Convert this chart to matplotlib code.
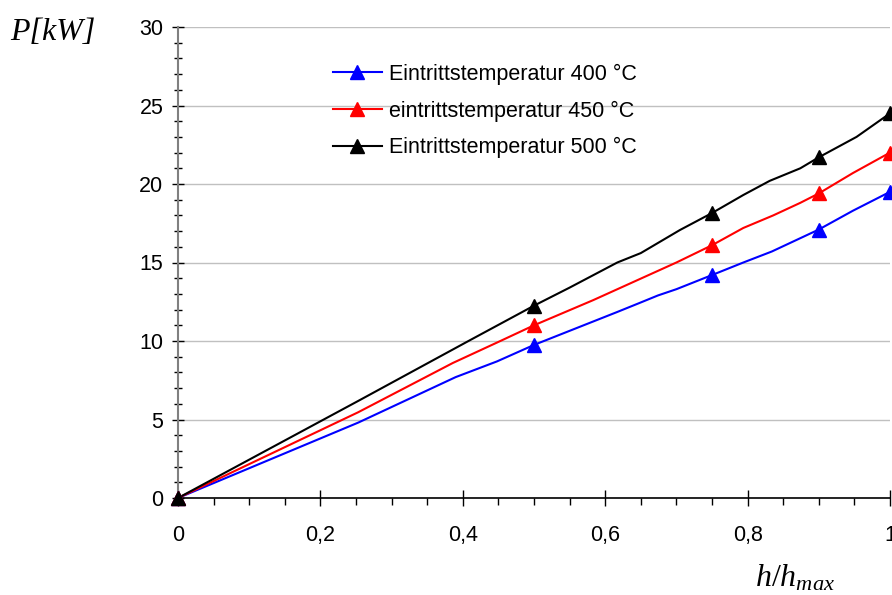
import matplotlib
matplotlib.use("Agg")
import matplotlib.pyplot as plt
from matplotlib.ticker import MultipleLocator, FuncFormatter

# Power P [kW] over relative lift h/h_max for three inlet temperatures
x_400 = [0.0, 0.253, 0.39, 0.448, 0.5, 0.617, 0.647, 0.674, 0.70, 0.75, 0.794, 0.834, 0.9, 0.948, 1.0]
p_400 = [0.0, 4.8, 7.7, 8.7, 9.75, 11.85, 12.4, 12.9, 13.3, 14.2, 15.0, 15.7, 17.1, 18.3, 19.5]

x_450 = [0.0, 0.253, 0.386, 0.448, 0.5, 0.583, 0.70, 0.75, 0.794, 0.836, 0.874, 0.9, 0.948, 1.0]
p_450 = [0.0, 5.46, 8.6, 9.9, 11.0, 12.6, 15.0, 16.1, 17.2, 18.0, 18.8, 19.4, 20.7, 22.0]

x_500 = [0.0, 0.253, 0.41, 0.5, 0.55, 0.617, 0.65, 0.705, 0.75, 0.794, 0.831, 0.874, 0.9, 0.953, 1.0]
p_500 = [0.0, 6.18, 10.05, 12.25, 13.4, 15.0, 15.6, 17.07, 18.15, 19.3, 20.2, 21.0, 21.7, 23.0, 24.5]

# measured operating points shown with markers
x_marks = [0.0, 0.5, 0.75, 0.9, 1.0]

labels = ["Eintrittstemperatur 400 °C",
          "eintrittstemperatur 450 °C",
          "Eintrittstemperatur 500 °C"]
colors = ["#0000ff", "#ff0000", "#000000"]

x_ticks = [0.0, 0.2, 0.4, 0.6, 0.8, 1.0]
y_ticks = [0, 5, 10, 15, 20, 25, 30]

plt.rcParams["font.family"] = ["Liberation Sans", "DejaVu Sans"]
plt.rcParams["mathtext.fontset"] = "custom"
plt.rcParams["mathtext.it"] = "Liberation Serif:italic"
plt.rcParams["mathtext.rm"] = "Liberation Serif"

W, H = 892, 595
fig = plt.figure(figsize=(W / 100, H / 100), dpi=100)
ax = fig.add_axes([178 / W, (H - 498) / H, 712 / W, 471 / H])

series = [(x_400, p_400), (x_450, p_450), (x_500, p_500)]
for (xs, ps), lab, col in zip(series, labels, colors):
    ax.plot(xs, ps, color=col, lw=1.5, zorder=3, clip_on=False)
    ym = [ps[xs.index(v)] for v in x_marks]
    ax.plot(x_marks, ym, linestyle="none", marker="^", ms=10, color=col,
            zorder=4, clip_on=False)
    ax.plot([], [], color=col, lw=1.5, marker="^", ms=10, label=lab)

ax.set_xlim(0, 1)
ax.set_ylim(0, 30)
ax.set_xticks(x_ticks)
ax.set_yticks(y_ticks)
ax.xaxis.set_minor_locator(MultipleLocator(0.05))
ax.yaxis.set_minor_locator(MultipleLocator(1))
ax.xaxis.set_major_formatter(FuncFormatter(lambda v, p: f"{v:g}".replace(".", ",")))

ax.grid(axis="y", color="#c0c0c0", lw=1, zorder=0)
ax.set_axisbelow(True)
for s in ("top", "right"):
    ax.spines[s].set_visible(False)
ax.spines["left"].set_color("#808080")
ax.spines["left"].set_linewidth(1.5)
ax.spines["bottom"].set_color("black")
ax.spines["bottom"].set_linewidth(1.2)

ax.tick_params(axis="y", which="major", direction="inout", length=9, width=1,
               color="black", labelsize=15.5, pad=6)
ax.tick_params(axis="y", which="minor", direction="inout", length=6, width=1,
               color="black")
ax.tick_params(axis="x", which="major", direction="inout", length=11, width=1,
               color="black", labelsize=15.5, pad=14)
ax.tick_params(axis="x", which="minor", direction="out", length=5, width=1,
               color="black")

ax.legend(loc="upper left", bbox_to_anchor=(0.205, 0.94), frameon=False,
          fontsize=15.5, handlelength=2.3, handletextpad=0.3,
          labelspacing=0.72, borderaxespad=0)

fig.text(10 / W, 1 - 32 / H, "P[kW]", fontsize=23, style="italic",
         family="Liberation Serif", va="center", ha="left")
fig.text(755 / W, 1 - 578 / H, r"$h/h_{max}$", fontsize=23,
         va="center", ha="left")

fig.savefig("out.png", dpi=100)
